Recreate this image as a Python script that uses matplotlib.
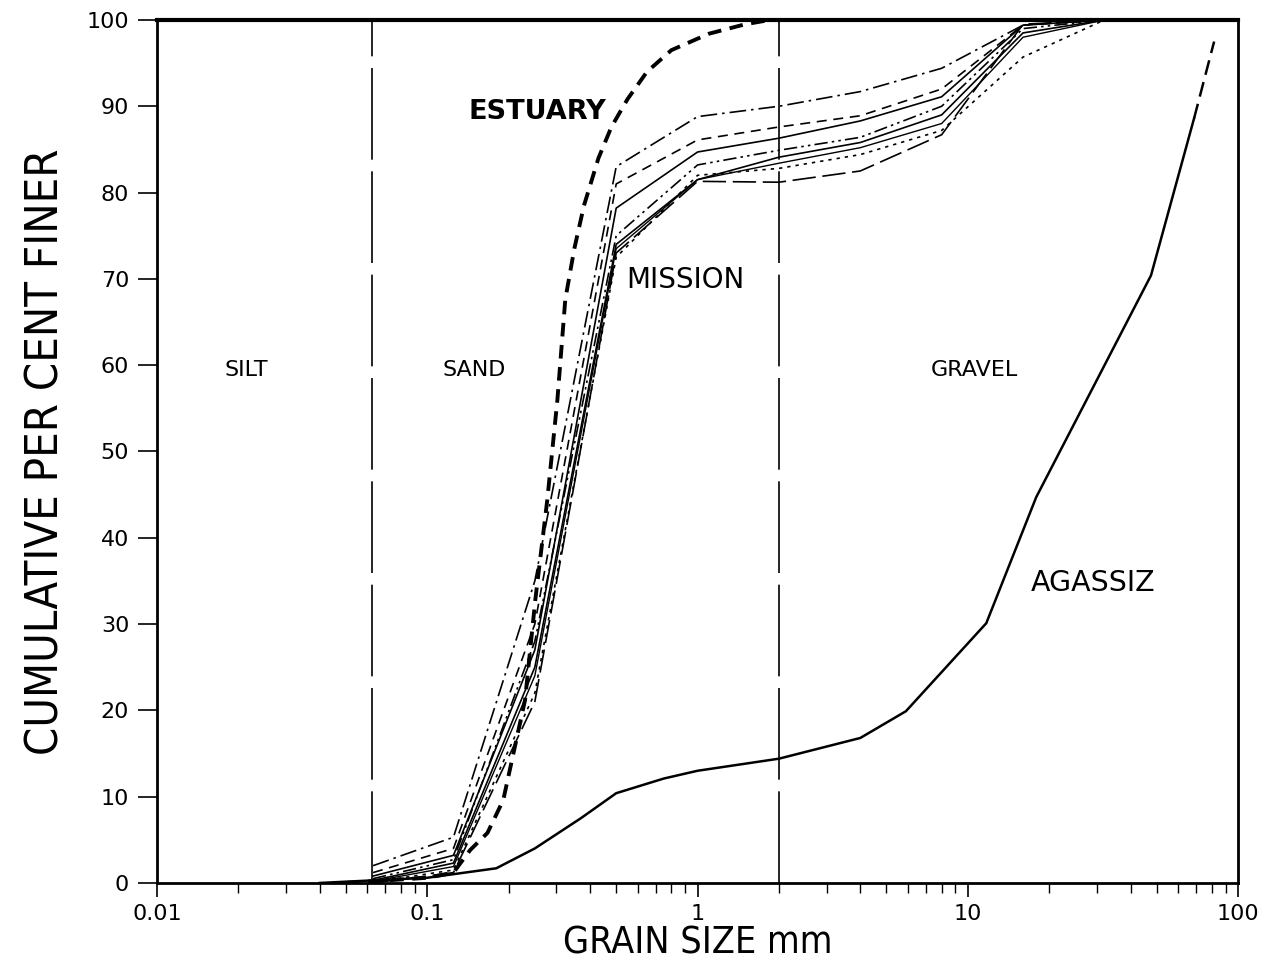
import numpy as np
import matplotlib.pyplot as plt

# Tamaños de tamiz (mm) usados para las curvas de Mission
sieve = [0.063, 0.125, 0.25, 0.5, 1.0, 2.0, 4.0, 8.0, 16.0, 32.0]

# Curvas granulométricas del río en Mission (% acumulado que pasa)
mission_a = [2.0, 5.3, 35.0, 83.0, 88.8, 90.0, 91.7, 94.4, 99.4, 100.0]
mission_b = [1.2, 4.0, 30.0, 81.0, 86.1, 87.6, 88.9, 92.0, 99.4, 100.0]
mission_c = [0.8, 3.2, 27.0, 78.2, 84.7, 86.3, 88.3, 91.1, 99.4, 100.0]
mission_d = [0.5, 2.7, 28.0, 75.0, 83.2, 84.9, 86.4, 90.0, 99.0, 100.0]
mission_e = [0.3, 2.3, 25.0, 74.0, 81.5, 84.1, 85.8, 89.0, 98.5, 100.0]
mission_f = [0.2, 1.9, 24.0, 73.5, 81.5, 83.4, 85.2, 88.0, 98.0, 100.0]
mission_g = [0.1, 1.5, 22.0, 72.5, 82.0, 82.8, 84.4, 87.2, 95.7, 100.0]
mission_h = [0.0, 1.2, 21.0, 73.0, 81.3, 81.2, 82.5, 86.7, 99.5, 100.0]

# Estuario
est_d = [0.05, 0.063, 0.1, 0.125, 0.144, 0.167, 0.191, 0.23, 0.251, 0.278,
         0.303, 0.324, 0.35, 0.38, 0.43, 0.48, 0.55, 0.65, 0.8, 1.1, 1.5, 1.85]
est_p = [0.0, 0.2, 0.6, 1.2, 3.8, 5.8, 9.6, 21.2, 32.8, 44.4,
         56.0, 67.6, 73.5, 78.5, 84.0, 87.6, 90.8, 94.0, 96.5, 98.4, 99.5, 100.0]

# Agassiz (tramo continuo y tramo extrapolado)
aga_d = [0.04, 0.063, 0.1, 0.18, 0.25, 0.37, 0.5, 0.75, 1.0, 2.0,
         4.0, 5.9, 11.7, 17.9, 47.6, 68.7]
aga_p = [0.0, 0.3, 0.6, 1.7, 4.0, 7.5, 10.4, 12.1, 13.0, 14.4,
         16.8, 19.9, 30.1, 44.7, 70.4, 88.6]
aga_ext_d = [68.7, 81.5]
aga_ext_p = [88.6, 97.5]

# Límites limo/arena y arena/grava
limites = [0.0625, 2.0]

fig = plt.figure(figsize=(12.66, 9.69), dpi=100)
ax = fig.add_axes([0.124, 0.0888, 0.854, 0.8906])

lw = 1.2
ax.plot(sieve, mission_a, color='k', lw=lw, dashes=(10, 3, 1.5, 3))
ax.plot(sieve, mission_b, color='k', lw=lw, dashes=(6, 4))
ax.plot(sieve, mission_c, color='k', lw=lw)
ax.plot(sieve, mission_d, color='k', lw=lw, dashes=(8, 2.5, 1.5, 2.5, 1.5, 2.5))
ax.plot(sieve, mission_e, color='k', lw=lw)
ax.plot(sieve, mission_f, color='k', lw=1.0)
ax.plot(sieve, mission_g, color='k', lw=lw, dashes=(2, 3))
ax.plot(sieve, mission_h, color='k', lw=lw, dashes=(14, 4))

ax.plot(est_d, est_p, color='k', lw=2.8, dashes=(3.5, 2.2))

ax.plot(aga_d, aga_p, color='k', lw=1.8)
ax.plot(aga_ext_d, aga_ext_p, color='k', lw=1.8, dashes=(6, 3))

for xv in limites:
    ax.axvline(xv, ymin=0.0, ymax=1.0, color='k', lw=1.2, dashes=(55, 7))

ax.set_xscale('log')
ax.set_xlim(0.01, 100)
ax.set_ylim(0, 100)
ax.set_yticks(np.arange(0, 101, 10))
ax.set_xticks([0.01, 0.1, 1, 10, 100])
ax.set_xticklabels(['0.01', '0.1', '1', '10', '100'])

ax.tick_params(axis='both', which='major', direction='out', labelsize=16,
               width=1.2, color='k')
ax.tick_params(axis='y', which='major', length=14, pad=6)
ax.tick_params(axis='x', which='major', length=10, pad=5)
ax.tick_params(axis='x', which='minor', direction='out', length=7, width=1.0)

for s in ['left', 'bottom', 'right']:
    ax.spines[s].set_linewidth(2.0)
ax.spines['top'].set_linewidth(3.0)

ax.set_xlabel('GRAIN SIZE mm', fontsize=27, fontstretch='condensed', labelpad=1)
ax.set_ylabel('CUMULATIVE PER CENT FINER', fontsize=32.5, fontstretch='condensed',
              labelpad=14)

ax.text(0.255, 89.3, 'ESTUARY', fontsize=19.5, fontweight='bold', ha='center', va='center')
ax.text(0.904, 69.9, 'MISSION', fontsize=20, ha='center', va='center')
ax.text(29.0, 34.8, 'AGASSIZ', fontsize=20.5, ha='center', va='center')
ax.text(0.0214, 59.4, 'SILT', fontsize=16, ha='center', va='center')
ax.text(0.149, 59.4, 'SAND', fontsize=16, ha='center', va='center')
ax.text(10.6, 59.4, 'GRAVEL', fontsize=16, ha='center', va='center')

fig.savefig('out.png', dpi=100)
